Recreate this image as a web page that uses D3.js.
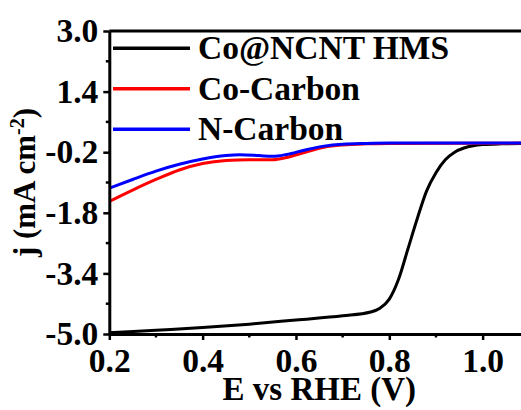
<!DOCTYPE html>
<html>
<head>
<meta charset="utf-8">
<script src="https://cdnjs.cloudflare.com/ajax/libs/d3/7.8.5/d3.min.js"></script>
<style>
  html, body { margin: 0; padding: 0; background: #fff; }
  svg { display: block; }
  text { font-family: "Liberation Serif", "Times New Roman", serif; font-weight: bold; fill: #000; }
</style>
</head>
<body>
<svg id="chart" width="521" height="410"></svg>
<script>
// Potential (V vs RHE) and current density (mA cm-2) for each catalyst
const hmsE = [0.20, 0.30, 0.40, 0.50, 0.60, 0.70, 0.76, 0.78, 0.80, 0.82, 0.84, 0.86, 0.88, 0.90, 0.92, 0.94, 0.96, 0.98, 1.00, 1.04, 1.10];
const hmsJ = [-4.97, -4.90, -4.83, -4.74, -4.63, -4.52, -4.42, -4.32, -4.08, -3.55, -2.75, -1.95, -1.22, -0.74, -0.40, -0.20, -0.09, -0.03, 0.00, 0.02, 0.03];

const coE = [0.20, 0.25, 0.30, 0.35, 0.40, 0.45, 0.50, 0.55, 0.58, 0.62, 0.66, 0.70, 0.75, 0.80, 1.10];
const coJ = [-1.50, -1.20, -0.92, -0.67, -0.50, -0.42, -0.40, -0.40, -0.34, -0.20, -0.07, -0.01, 0.02, 0.03, 0.04];

const nE = [0.20, 0.25, 0.30, 0.35, 0.40, 0.45, 0.48, 0.52, 0.55, 0.58, 0.62, 0.66, 0.70, 0.75, 0.80, 1.10];
const nJ = [-1.15, -0.92, -0.70, -0.52, -0.38, -0.29, -0.27, -0.29, -0.31, -0.26, -0.14, -0.04, 0.01, 0.03, 0.04, 0.04];

const seriesNames = ["Co@NCNT HMS", "Co-Carbon", "N-Carbon"];
const seriesColors = ["#000000", "#ff0000", "#0000ff"];

const xMajor = [0.2, 0.4, 0.6, 0.8, 1.0];
const xMinor = [0.3, 0.5, 0.7, 0.9, 1.1];
const yMajor = [3.0, 1.4, -0.2, -1.8, -3.4, -5.0];
const yMinor = [2.2, 0.6, -1.0, -2.6, -4.2];

const svg = d3.select("#chart");
const plotLeft = 109.3, plotRight = 529.3, plotTop = 31, plotBottom = 334;

const x = d3.scaleLinear().domain([0.2, 1.1]).range([plotLeft, plotRight]);
const y = d3.scaleLinear().domain([-5, 3]).range([plotBottom, plotTop]);

const series = [
  { name: seriesNames[0], color: seriesColors[0], pts: hmsE.map((e, i) => [e, hmsJ[i]]) },
  { name: seriesNames[1], color: seriesColors[1], pts: coE.map((e, i) => [e, coJ[i]]) },
  { name: seriesNames[2], color: seriesColors[2], pts: nE.map((e, i) => [e, nJ[i]]) }
];

svg.append("clipPath").attr("id", "plot")
  .append("rect").attr("x", plotLeft).attr("y", plotTop)
  .attr("width", plotRight - plotLeft).attr("height", plotBottom - plotTop);

const line = d3.line().x(d => x(d[0])).y(d => y(d[1])).curve(d3.curveMonotoneX);

svg.append("g").attr("clip-path", "url(#plot)")
  .selectAll("path").data(series).join("path")
  .attr("d", d => line(d.pts))
  .attr("fill", "none")
  .attr("stroke", d => d.color)
  .attr("stroke-width", 3)
  .attr("stroke-linejoin", "round");

// Frame top edge
svg.append("line").attr("x1", plotLeft).attr("x2", plotRight).attr("y1", plotTop).attr("y2", plotTop)
  .attr("stroke", "#000").attr("stroke-width", 3);

const fmt = d => d.toFixed(1);

// Bottom axis
const gx = svg.append("g").attr("transform", `translate(0,${plotBottom})`)
  .call(d3.axisBottom(x).tickValues(xMajor).tickFormat(fmt).tickSize(6).tickPadding(8).tickSizeOuter(0));
gx.append("g").selectAll("line").data(xMinor).join("line")
  .attr("x1", d => x(d)).attr("x2", d => x(d)).attr("y1", 0).attr("y2", 3.5)
  .attr("stroke", "#000").attr("stroke-width", 2.5);

// Left axis
const gy = svg.append("g").attr("transform", `translate(${plotLeft},0)`)
  .call(d3.axisLeft(y).tickValues(yMajor).tickFormat(fmt).tickSize(6).tickPadding(5).tickSizeOuter(0));
gy.append("g").selectAll("line").data(yMinor).join("line")
  .attr("x1", 0).attr("x2", -3.5).attr("y1", d => y(d)).attr("y2", d => y(d))
  .attr("stroke", "#000").attr("stroke-width", 2.5);

[gx, gy].forEach(g => {
  g.attr("font-family", null).attr("font-size", null);
  g.select(".domain").attr("stroke", "#000").attr("stroke-width", 3);
  g.selectAll(".tick line").attr("stroke", "#000").attr("stroke-width", 2.5);
  g.selectAll("text").attr("font-size", 33.5).attr("fill", "#000");
});

// Axis titles
svg.append("text").attr("x", (plotLeft + plotRight) / 2).attr("y", 400)
  .attr("text-anchor", "middle").attr("font-size", 33).text("E vs RHE (V)");

const yt = svg.append("text").attr("transform", `translate(35,${(plotTop + plotBottom) / 2}) rotate(-90)`)
  .attr("text-anchor", "middle").attr("font-size", 31);
yt.append("tspan").text("j (mA cm");
yt.append("tspan").attr("font-size", 20).attr("dy", -11).text("-2");
yt.append("tspan").attr("dy", 11).text(")");

// Legend
const lg = svg.append("g").selectAll("g").data(series).join("g")
  .attr("transform", (d, i) => `translate(0,${48.3 + i * 40.5})`);
lg.append("line").attr("x1", 113).attr("x2", 190).attr("y1", 0).attr("y2", 0)
  .attr("stroke", d => d.color).attr("stroke-width", 3.5);
lg.append("text").attr("x", 198).attr("y", 11).attr("font-size", 33.5).text(d => d.name);
</script>
</body>
</html>
